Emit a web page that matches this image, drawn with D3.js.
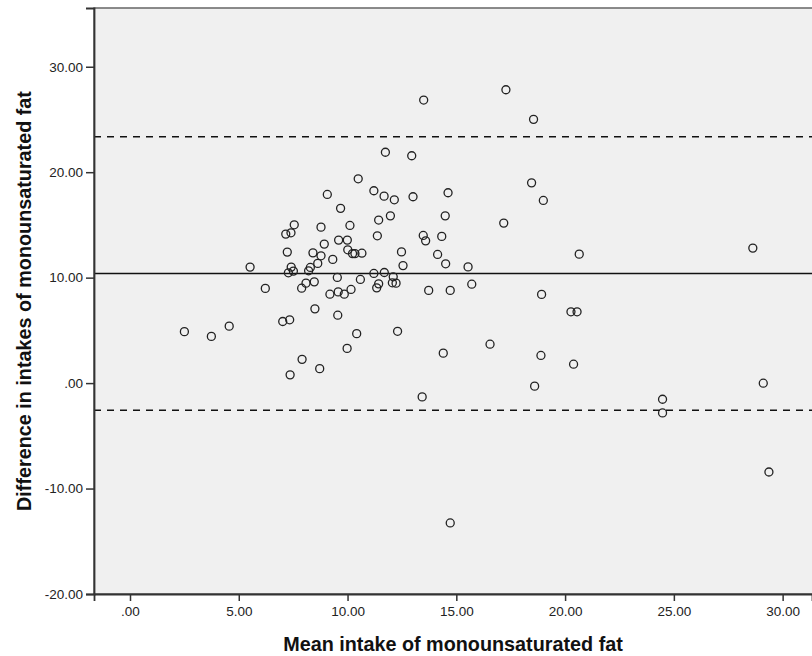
<!DOCTYPE html>
<html>
<head>
<meta charset="utf-8">
<script src="https://cdn.jsdelivr.net/npm/d3@7"></script>
<style>
  html, body { margin: 0; padding: 0; background: #ffffff; overflow: hidden; }
  svg { display: block; }
</style>
</head>
<body>
<svg id="chart" width="812" height="656"></svg>
<script>
// Mean intake (x) and difference (y) for each subject
const meanIntake = [
  11.74, 10.49, 9.07, 11.21, 11.68, 12.15, 9.68, 11.43, 11.97, 7.55,
  7.16, 7.40, 8.78, 10.11, 11.37, 9.59, 9.99, 8.93, 7.23, 8.41,
  10.01, 10.34, 10.66, 10.23, 12.48, 8.78, 9.32, 8.63, 5.52, 7.41,
  8.29, 7.28, 7.51, 8.21, 9.53, 11.21, 11.69, 12.10, 12.55, 6.22,
  7.89, 8.09, 8.47, 10.59, 11.34, 11.43, 12.06, 12.23, 9.19, 9.57,
  9.85, 10.16, 8.50, 9.55, 7.02, 7.34, 2.50, 3.74, 4.56, 10.42,
  12.30, 9.98, 7.91, 8.72, 7.36, 17.28, 13.50, 18.55, 12.95, 18.46,
  19.00, 13.01, 14.62, 14.49, 17.18, 13.48, 13.59, 14.33, 14.14, 20.65,
  14.51, 15.54, 13.73, 14.72, 15.71, 18.92, 20.27, 20.55, 14.40, 16.55,
  18.89, 20.39, 18.60, 13.43, 14.72, 28.63, 29.11, 24.48, 24.48, 29.37
];
const difference = [
  21.89, 19.37, 17.89, 18.24, 17.73, 17.38, 16.57, 15.46, 15.86, 15.01,
  14.13, 14.25, 14.79, 14.95, 13.97, 13.56, 13.56, 13.18, 12.42, 12.35,
  12.64, 12.28, 12.32, 12.28, 12.44, 12.07, 11.73, 11.35, 11.00, 11.00,
  10.97, 10.46, 10.62, 10.65, 10.02, 10.40, 10.49, 10.08, 11.14, 8.98,
  9.00, 9.48, 9.60, 9.83, 9.03, 9.41, 9.51, 9.48, 8.43, 8.65,
  8.43, 8.88, 7.04, 6.44, 5.84, 6.00, 4.88, 4.43, 5.40, 4.69,
  4.91, 3.29, 2.25, 1.37, 0.78, 27.82, 26.84, 25.01, 21.56, 18.99,
  17.32, 17.67, 18.05, 15.86, 15.17, 14.00, 13.49, 13.91, 12.20, 12.23,
  11.31, 11.02, 8.79, 8.79, 9.38, 8.41, 6.76, 6.76, 2.84, 3.69,
  2.62, 1.79, -0.29, -1.31, -13.26, 12.80, -0.01, -1.53, -2.83, -8.43
];
// Reference lines: mean difference and limits of agreement
const meanDifference = 10.39;
const limitsOfAgreement = [23.36, -2.58];

const xTicks = [0, 5, 10, 15, 20, 25, 30];
const yTicks = [-20, -10, 0, 10, 20, 30];
const xTitle = "Mean intake of monounsaturated fat";
const yTitle = "Difference in intakes of monounsaturated fat";

const fmt = v => {
  const s = d3.format(".2f")(v).replace("\u2212", "-");
  return s.replace(/^0\./, ".").replace(/^-0\./, "-.");
};

const svg = d3.select("#chart");
const pLeft = 94, pTop = 8, pBottom = 594, pRight = 812;

const x = d3.scaleLinear().domain([-1.655, 31.35]).range([pLeft, pRight]);
const y = d3.scaleLinear().domain([-20, 35.57]).range([pBottom, pTop]);

// plot background & frame (frame extends past the right edge)
svg.append("rect")
  .attr("x", pLeft).attr("y", pTop)
  .attr("width", pRight - pLeft + 20).attr("height", pBottom - pTop)
  .attr("fill", "#f0f0f0")
  .attr("stroke", "#666").attr("stroke-width", 1.5);

// Reference lines
const lineG = svg.append("g");
lineG.append("line")
  .attr("x1", pLeft).attr("x2", pRight)
  .attr("y1", y(meanDifference)).attr("y2", y(meanDifference))
  .attr("stroke", "#111").attr("stroke-width", 1.6);
lineG.selectAll("line.loa").data(limitsOfAgreement).join("line")
  .attr("class", "loa")
  .attr("x1", pLeft).attr("x2", pRight)
  .attr("y1", d => y(d)).attr("y2", d => y(d))
  .attr("stroke", "#111").attr("stroke-width", 1.6)
  .attr("stroke-dasharray", "7,6");

// Points
svg.append("g").selectAll("circle")
  .data(meanIntake.map((m, i) => [m, difference[i]]))
  .join("circle")
  .attr("cx", d => x(d[0]))
  .attr("cy", d => y(d[1]))
  .attr("r", 4)
  .attr("fill", "none")
  .attr("stroke", "#222")
  .attr("stroke-width", 1.3);

// Axes
const xAxis = svg.append("g")
  .attr("transform", `translate(0,${pBottom})`)
  .call(d3.axisBottom(x).tickValues(xTicks).tickFormat(fmt).tickSize(7).tickPadding(5));
const yAxis = svg.append("g")
  .attr("transform", `translate(${pLeft},0)`)
  .call(d3.axisLeft(y).tickValues(yTicks).tickFormat(fmt).tickSize(8).tickPadding(3));

[xAxis, yAxis].forEach(g => {
  g.select(".domain").attr("stroke", "#333").attr("stroke-width", 1.8);
  g.selectAll(".tick line").attr("stroke", "#333").attr("stroke-width", 1.5);
  g.selectAll(".tick text")
    .attr("fill", "#222")
    .style("font-family", "'Liberation Sans', Arial, sans-serif")
    .style("font-size", "13.5px");
});

// Titles
svg.append("text")
  .attr("x", (pLeft + pRight) / 2).attr("y", 651)
  .attr("text-anchor", "middle")
  .style("font-family", "'Liberation Sans', Arial, sans-serif")
  .style("font-weight", "bold")
  .style("font-size", "19.8px")
  .attr("fill", "#111")
  .text(xTitle);

svg.append("text")
  .attr("transform", `translate(31,${(pTop + pBottom) / 2}) rotate(-90)`)
  .attr("text-anchor", "middle")
  .style("font-family", "'Liberation Sans', Arial, sans-serif")
  .style("font-weight", "bold")
  .style("font-size", "19.8px")
  .attr("fill", "#111")
  .text(yTitle);
</script>
</body>
</html>
